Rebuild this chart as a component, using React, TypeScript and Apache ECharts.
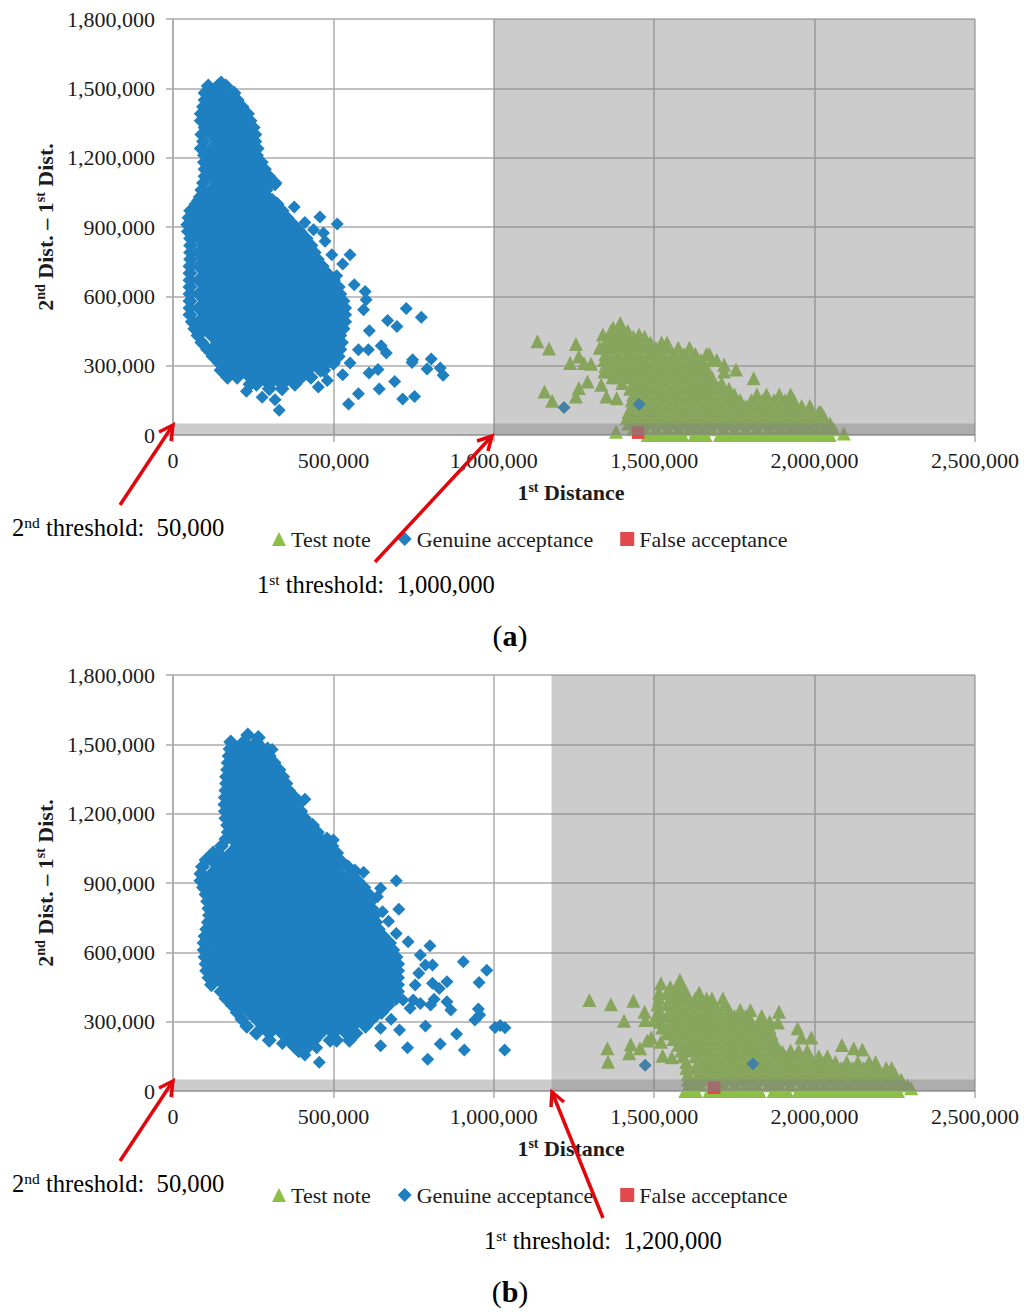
import React, { useEffect, useRef } from "react";
import * as echarts from "echarts";

// All values in thousands. Each row: [y, x, x, x ...]
const blueRowsA: number[][] = [
  [1523,150],
  [1510,110,140,165],
  [1480,100,120,160,190],
  [1450,100,140,180,200],
  [1420,95,120,160,200,215],
  [1390,88,100,140,180,220,232],
  [1360,88,120,160,200,240],
  [1330,100,140,180,220,250],
  [1300,90,120,160,200,240,255],
  [1270,95,140,180,220,255],
  [1240,88,120,160,200,240,262],
  [1210,98,140,180,220,260],
  [1180,98,120,160,200,240,275],
  [1150,100,140,180,220,260,285],
  [1120,100,120,160,200,240,280,298],
  [1090,95,140,180,220,260,300,318],
  [1060,90,120,160,200,240,280,290],
  [1030,85,100,140,180,220,260,295],
  [1015,80,120,160,200,240,280,310],
  [1000,72,100,140,180,220,260,300,324],
  [970,55,80,120,160,200,240,280,320,340],
  [940,50,60,100,140,180,220,260,300,340,355],
  [910,46,80,120,160,200,240,280,320,360,375],
  [880,48,60,100,140,180,220,260,300,340,380,395],
  [850,55,80,120,160,200,240,280,320,360,400,415],
  [820,55,100,140,180,220,260,300,340,380,420,430],
  [790,55,80,120,160,200,240,280,320,360,400,440],
  [760,55,100,140,180,220,260,300,340,380,420,450],
  [730,53,80,120,160,200,240,280,320,360,400,440,465],
  [700,53,100,140,180,220,260,300,340,380,420,460,480],
  [670,53,80,120,160,200,240,280,320,360,400,440,480,500],
  [640,53,100,140,180,220,260,300,340,380,420,460,500,515],
  [610,53,80,120,160,200,240,280,320,360,400,440,480,520],
  [580,53,100,140,180,220,260,300,340,380,420,460,500,530],
  [550,53,80,120,160,200,240,280,320,360,400,440,480,520,535],
  [520,53,100,140,180,220,260,300,340,380,420,460,500,535],
  [490,60,80,120,160,200,240,280,320,360,400,440,480,520,535],
  [460,68,100,140,180,220,260,300,340,380,420,460,500,530],
  [430,78,120,160,200,240,280,320,360,400,440,480,520],
  [400,90,140,180,220,260,300,340,380,420,460,500,525],
  [370,108,120,160,200,240,280,320,360,400,440,480,520],
  [340,125,140,180,220,260,300,340,380,420,460,500,515],
  [310,145,160,200,240,280,320,360,400,440,480,500],
  [280,150,180,220,260,300,340,380,420,460,470],
  [250,170,200,240,280,320,360,400,430],
  [220,240,260,300,340,380],
  [200,300,340],
];
const blueLooseA: number[][] = [
  [134,547],[107,331],[153,318],[163,278],[189,229],[208,453],[236,481],[179,578],[199,643],[232,691],
  [156,716],[167,753],[268,611],[283,639],[261,529],[286,792],[329,805],[290,833],[258,842],[326,747],
  [314,745],[386,649],[355,665],[369,609],[451,612],[470,698],[495,669],[547,727],[510,774],[621,599],
  [585,602],[542,594],[650,565],[689,510],[740,529],[780,552],[780,495],[913,512],[943,458],[920,411],
  [986,378],[874,469],[888,438],[838,474],[1083,318],[311,552],[369,578],[311,500],
  [119,1219],[133,1453],
];

const blueRowsB: number[][] = [
  [1540,233],
  [1530,266],
  [1510,180,220,260],
  [1480,178,200,240,280,295],
  [1450,175,190,220,260,300],
  [1420,172,200,240,280,315],
  [1390,170,185,220,260,300,330],
  [1360,167,200,240,280,320,342],
  [1330,167,185,220,260,300,340,352],
  [1300,165,200,240,280,320,360],
  [1270,163,185,220,260,300,340,380],
  [1240,162,200,240,280,320,360,390],
  [1210,163,185,220,260,300,340,380,398],
  [1180,165,200,240,280,320,360,400,410],
  [1150,170,185,220,260,300,340,380,420,435],
  [1120,172,200,240,280,320,360,400,440,450],
  [1090,165,185,220,260,300,340,380,420,460,480],
  [1060,151,200,240,280,320,360,400,440,480,495],
  [1030,125,140,180,220,260,300,340,380,420,460,500,510],
  [1000,103,120,160,200,240,280,320,360,400,440,480,520],
  [970,92,140,180,220,260,300,340,380,420,460,500,545],
  [940,87,120,160,200,240,280,320,360,400,440,480,520,560],
  [910,87,100,140,180,220,260,300,340,380,420,460,500,540,575],
  [880,95,120,160,200,240,280,320,360,400,440,480,520,560,595],
  [850,103,140,180,220,260,300,340,380,420,460,500,540,580,610],
  [820,108,120,160,200,240,280,320,360,400,440,480,520,560,600,615],
  [790,112,140,180,220,260,300,340,380,420,460,500,540,580,620],
  [760,114,120,160,200,240,280,320,360,400,440,480,520,560,600,628],
  [730,110,140,180,220,260,300,340,380,420,460,500,540,580,620,632],
  [700,105,120,160,200,240,280,320,360,400,440,480,520,560,600,640],
  [670,100,140,180,220,260,300,340,380,420,460,500,540,580,620,655],
  [640,97,120,160,200,240,280,320,360,400,440,480,520,560,600,640,675],
  [610,97,140,180,220,260,300,340,380,420,460,500,540,580,620,660,685],
  [580,100,120,160,200,240,280,320,360,400,440,480,520,560,600,640,680,695],
  [550,103,140,180,220,260,300,340,380,420,460,500,540,580,620,660,700],
  [520,105,120,160,200,240,280,320,360,400,440,480,520,560,600,640,680,700],
  [490,112,140,180,220,260,300,340,380,420,460,500,540,580,620,660,700],
  [460,120,160,200,240,280,320,360,400,440,480,520,560,600,640,680,700],
  [430,150,180,220,260,300,340,380,420,460,500,540,580,620,660,700],
  [400,165,200,240,280,320,360,400,440,480,520,560,600,640,680,695],
  [370,185,220,260,300,340,380,420,460,500,540,580,620,660,670],
  [340,200,240,280,320,360,400,440,480,520,560,600,640,650],
  [310,215,260,300,340,380,420,460,500,540,580,620],
  [280,230,280,320,360,400,440,480,520,560,600],
  [250,260,300,340,380,420,460,500,540,570],
  [220,300,360,400,440,490,510,550],
  [190,380,420],
];
const blueLooseB: number[][] = [
  [1262,411],[1478,309],
  [124,456],[156,411],[170,392],[206,341],[187,448],[196,647],[187,731],[137,794],[203,833],[177,908],
  [177,1034],[247,884],[281,787],[264,706],[271,647],[329,631],[310,680],[275,1004],[283,1020],[274,1035],
  [307,941],[329,956],[355,952],[350,866],[386,854],[397,814],[372,803],[379,771],[358,739],[444,830],
  [466,809],[473,854],[459,755],[469,954],[523,978],[559,905],[545,809],[545,787],[509,766],[629,801],
  [588,771],[646,733],[682,696],[735,672],[786,704],[776,653],[910,696],[877,647],[841,637],[946,594],
  [956,567],[985,529],[1086,500],[1042,497],[394,749],[394,717],
  [111,1472],[118,1808],
];

const greenRowsA: number[][] = [
  [485,1394],
  [464,1372,1400],
  [450,1365,1400,1418],
  [435,1340,1383,1418,1453],
  [425,1365,1400,1435,1470],
  [400,1348,1383,1418,1453,1488,1523,1540],
  [377,1330,1365,1400,1435,1470,1505,1540,1575,1610],
  [350,1348,1383,1418,1453,1488,1523,1558,1593,1628,1663,1672],
  [325,1345,1365,1400,1435,1470,1505,1540,1575,1610,1645,1680,1695],
  [300,1348,1383,1418,1453,1488,1523,1558,1593,1628,1660],
  [275,1345,1365,1400,1435,1470,1505,1540,1575,1610,1645,1665,1718],
  [250,1370,1383,1418,1453,1488,1523,1558,1593,1628,1663,1680],
  [225,1400,1435,1470,1505,1540,1575,1610,1645,1680,1710],
  [200,1425,1453,1488,1523,1558,1593,1628,1663,1698,1733],
  [175,1435,1470,1505,1540,1575,1610,1645,1680,1715,1750,1820,1850,1890,1925],
  [150,1430,1453,1488,1523,1558,1593,1628,1663,1698,1733,1768,1803,1838,1873,1908,1935],
  [125,1435,1470,1505,1540,1575,1610,1645,1680,1715,1750,1785,1820,1855,1890,1925,1960,1985],
  [100,1420,1453,1488,1523,1558,1593,1628,1663,1698,1733,1768,1803,1838,1873,1908,1943,1978,2013,2020],
  [75,1415,1435,1470,1505,1540,1575,1610,1645,1680,1715,1750,1785,1820,1855,1890,1925,1960,1995,2030],
  [50,1420,1453,1488,1523,1558,1593,1628,1663,1698,1733,1768,1803,1838,1873,1908,1943,1978,2013,2048],
  [25,1435,1470,1505,1540,1575,1610,1645,1680,1715,1750,1785,1820,1855,1890,1925,1960,1995,2030,2060],
  [0,1480,1498,1516,1534,1552,1570,1588,1625,1643,1660,1705,1723,1741,1759,1777,1795,1813,1831,1849,1867,1885,1903,1921,1939,1957,1975,1993,2011,2029,2047],
  [406,1136],[374,1172],[394,1256],[188,1158],[148,1182],[311,1238],[340,1265],[311,1281],[308,1303],
  [167,1256],[203,1265],[232,1292],[217,1335],[167,1351],[159,1383],[14,1381],[7,2091],[246,1810],[283,1755],[304,1718],
];

const greenRowsB: number[][] = [
  [480,1580],
  [466,1521],
  [450,1550,1570,1590],
  [425,1515,1540,1575,1600,1640],
  [400,1515,1558,1593,1628,1663,1680,1714],
  [375,1510,1540,1575,1610,1645,1680,1720],
  [350,1515,1558,1593,1628,1663,1698,1733,1768,1800],
  [325,1515,1540,1575,1610,1645,1680,1715,1750,1785,1835],
  [300,1520,1558,1593,1628,1663,1698,1733,1768,1803,1838,1860],
  [275,1525,1540,1575,1610,1645,1680,1715,1750,1785,1820,1855,1860],
  [250,1540,1558,1593,1628,1663,1698,1733,1768,1803,1838,1865],
  [225,1560,1575,1610,1645,1680,1715,1750,1785,1820,1855,1870],
  [200,1575,1593,1628,1663,1698,1733,1768,1803,1838,1873,1880],
  [175,1585,1610,1645,1680,1715,1750,1785,1820,1855,1890,1925,1950,1977],
  [150,1590,1628,1663,1698,1733,1768,1803,1838,1873,1908,1943,1978,2013,2040],
  [125,1600,1645,1680,1715,1750,1785,1820,1855,1890,1925,1960,1995,2030,2065,2100,2135,2170,2190],
  [100,1600,1628,1663,1698,1733,1768,1803,1838,1873,1908,1943,1978,2013,2048,2083,2118,2153,2188,2223,2240],
  [75,1605,1645,1680,1715,1750,1785,1820,1855,1890,1925,1960,1995,2030,2065,2100,2135,2170,2205,2240,2250],
  [50,1605,1628,1663,1698,1733,1768,1803,1838,1873,1908,1943,1978,2013,2048,2083,2118,2153,2188,2223,2258,2270],
  [25,1610,1645,1680,1715,1750,1785,1820,1855,1890,1925,1960,1995,2030,2065,2100,2135,2170,2205,2240,2275,2290],
  [0,1597,1615,1630,1672,1690,1708,1726,1744,1762,1780,1798,1816,1828,1872,1895,1914,1950,1972,1990,2008,2026,2044,2062,2080,2098,2116,2134,2152,2170,2188,2206,2224,2242,2260],
  [394,1298],[375,1365],[391,1435],[304,1406],[343,1470],[307,1472],[185,1354],[127,1356],[202,1427],[163,1422],
  [185,1456],[218,1478],[232,1491],[213,1521],[153,1526],[146,1555],[307,1499],[12,2301],[343,1889],[296,1886],
  [271,1947],[232,1959],[232,1990],[199,2085],[185,2122],[180,2149],[170,1900],
];

const redA: number[][] = [[10,1450]];
const redB: number[][] = [[14,1687]];

const xTicks = { min: 0, max: 2500000, interval: 500000 };
const yTicks = { min: 0, max: 1800000, interval: 300000 };
const legendNames = ["Test note", "Genuine acceptance", "False acceptance"];

const toPoints = (rows: number[][]) =>
  rows.flatMap(([y, ...xs]) => xs.map((x) => [x * 1000, y * 1000]));

const FONT = '"Liberation Serif", "Times New Roman", serif';
const INK = "#1c1c1c";
const GREEN = "#8cbf46";
const BLUE = "#1e80c0";
const RED = "#e04a4a";
const RULE = "#ababab";
const SHADE = "rgba(128,128,128,0.4)";
const ARROW = "#e0060c";

const boldRich = {
  b: { fontFamily: FONT, fontWeight: "bold", fontSize: 22, color: INK, lineHeight: 24 },
  s: { fontFamily: FONT, fontWeight: "bold", fontSize: 14, color: INK, lineHeight: 14, verticalAlign: "top" },
};
const noteRich = {
  t: { fontFamily: FONT, fontSize: 24.6, color: INK, lineHeight: 26 },
  u: { fontFamily: FONT, fontSize: 15.5, color: INK, lineHeight: 15, verticalAlign: "top" },
};

const axisPair = (i: number) => ({
  x: {
    type: "value", gridIndex: i, ...xTicks,
    name: "{b|1}{s|st}{b| Distance}", nameLocation: "middle", nameGap: 45,
    nameTextStyle: { rich: boldRich, padding: [0, 6, 0, 0] },
    axisLine: { show: true, onZero: false, lineStyle: { color: RULE, width: 1.5 } },
    axisTick: { show: true, length: 7, lineStyle: { color: RULE, width: 1.5 } },
    axisLabel: { fontFamily: FONT, fontSize: 22, color: INK, margin: 14, hideOverlap: false },
    splitLine: { show: true, lineStyle: { color: RULE, width: 1.5 } },
  },
  y: {
    type: "value", gridIndex: i, ...yTicks,
    name: "{b|2}{s|nd}{b| Dist. – 1}{s|st}{b| Dist.}", nameLocation: "middle", nameGap: 112, nameRotate: 90,
    nameTextStyle: { rich: boldRich },
    axisLine: { show: true, onZero: false, lineStyle: { color: RULE, width: 1.5 } },
    axisTick: { show: true, length: 7, lineStyle: { color: RULE, width: 1.5 } },
    axisLabel: { fontFamily: FONT, fontSize: 22, color: INK, margin: 18, hideOverlap: false },
    splitLine: { show: true, lineStyle: { color: RULE, width: 1.5 } },
  },
});

const panelSeries = (
  i: number, green: number[][], blue: number[][], loose: number[][], red: number[][], threshold: number,
) => [
  { type: "scatter", name: legendNames[0], xAxisIndex: i, yAxisIndex: i, clip: false, z: 2, symbol: "triangle", symbolSize: 14,
    itemStyle: { color: GREEN, opacity: 1 }, data: toPoints(green) },
  { type: "scatter", name: legendNames[1], xAxisIndex: i, yAxisIndex: i, clip: false, z: 3, symbol: "diamond", symbolSize: 15,
    itemStyle: { color: BLUE, opacity: 1 }, data: toPoints(blue) },
  { type: "scatter", name: legendNames[1], xAxisIndex: i, yAxisIndex: i, clip: false, z: 3, symbol: "diamond", symbolSize: 13,
    itemStyle: { color: BLUE, opacity: 1 }, data: toPoints(loose) },
  { type: "scatter", name: legendNames[2], xAxisIndex: i, yAxisIndex: i, clip: false, z: 4, symbol: "rect", symbolSize: 12.5,
    itemStyle: { color: RED, opacity: 1 }, data: toPoints(red) },
  { type: "scatter", name: "shade" + i, xAxisIndex: i, yAxisIndex: i, z: 5, data: [],
    markArea: {
      silent: true, z: 10, itemStyle: { color: SHADE, borderWidth: 0 }, label: { show: false },
      data: [
        [{ xAxis: threshold, yAxis: 0 }, { xAxis: 2500000, yAxis: 1800000 }],
        [{ xAxis: 0, yAxis: 0 }, { xAxis: 2500000, yAxis: 50000 }],
      ],
    },
  },
];

const legendAt = (top: number) => ({
  left: 272, top, orient: "horizontal", data: legendNames, itemWidth: 14, itemHeight: 14, itemGap: 27, itemTextGap: 2,
  padding: 0, selectedMode: false,
  textStyle: { fontFamily: FONT, fontSize: 22, color: INK },
});

const note = (x: number, y: number, sup: string, value: string) => ({
  type: "text", x, y, z: 20,
  style: { text: `{t|${sup[0]}}{u|${sup.slice(1)}}{t| threshold:  ${value}}`, rich: noteRich, verticalAlign: "middle" },
});

const arrow = (tail: number[], tip: number[], b1: number[], b2: number[]) => [
  { type: "line", z: 30, shape: { x1: tail[0], y1: tail[1], x2: tip[0], y2: tip[1] }, style: { stroke: ARROW, lineWidth: 3.5 } },
  { type: "polyline", z: 30, shape: { points: [b1, tip, b2] }, style: { stroke: ARROW, lineWidth: 3.5, fill: "none" } },
];

const tag = (y: number, ch: string) => ({
  type: "text", x: 510, y, z: 20,
  style: {
    text: `{p|(}{q|${ch}}{p|)}`, align: "center", verticalAlign: "middle",
    rich: {
      p: { fontFamily: FONT, fontSize: 30, color: INK },
      q: { fontFamily: FONT, fontSize: 30, fontWeight: "bold", color: INK },
    },
  },
});

export default function App() {
  const ref = useRef<HTMLDivElement>(null);
  useEffect(() => {
    const chart = echarts.init(ref.current!, undefined, { renderer: "svg" });
    const a = axisPair(0);
    const b = axisPair(1);
    chart.setOption({
      animation: false,
      backgroundColor: "#ffffff",
      grid: [
        { left: 173, top: 19, width: 802, height: 416, containLabel: false },
        { left: 173, top: 675, width: 802, height: 416, containLabel: false },
      ],
      xAxis: [a.x, b.x],
      yAxis: [a.y, b.y],
      legend: [legendAt(528), legendAt(1184)],
      series: [
        ...panelSeries(0, greenRowsA, blueRowsA, blueLooseA, redA, 1000000),
        ...panelSeries(1, greenRowsB, blueRowsB, blueLooseB, redB, 1180000),
      ],
      graphic: [
        note(12, 527, "2nd", "50,000"),
        note(257, 584, "1st", "1,000,000"),
        note(12, 1183, "2nd", "50,000"),
        note(484, 1240, "1st", "1,200,000"),
        tag(635, "a"),
        tag(1291, "b"),
        ...arrow([120, 505], [173, 425], [171, 441], [159, 432]),
        ...arrow([375, 562], [492, 436], [488, 451], [477, 441]),
        ...arrow([120, 1161], [173, 1081], [171, 1097], [159, 1088]),
        ...arrow([603, 1218], [552, 1092], [564, 1102], [551, 1107]),
      ],
    });
    return () => chart.dispose();
  }, []);
  return <div ref={ref} style={{ position: "absolute", left: 0, top: 0, width: 1024, height: 1315 }} />;
}
